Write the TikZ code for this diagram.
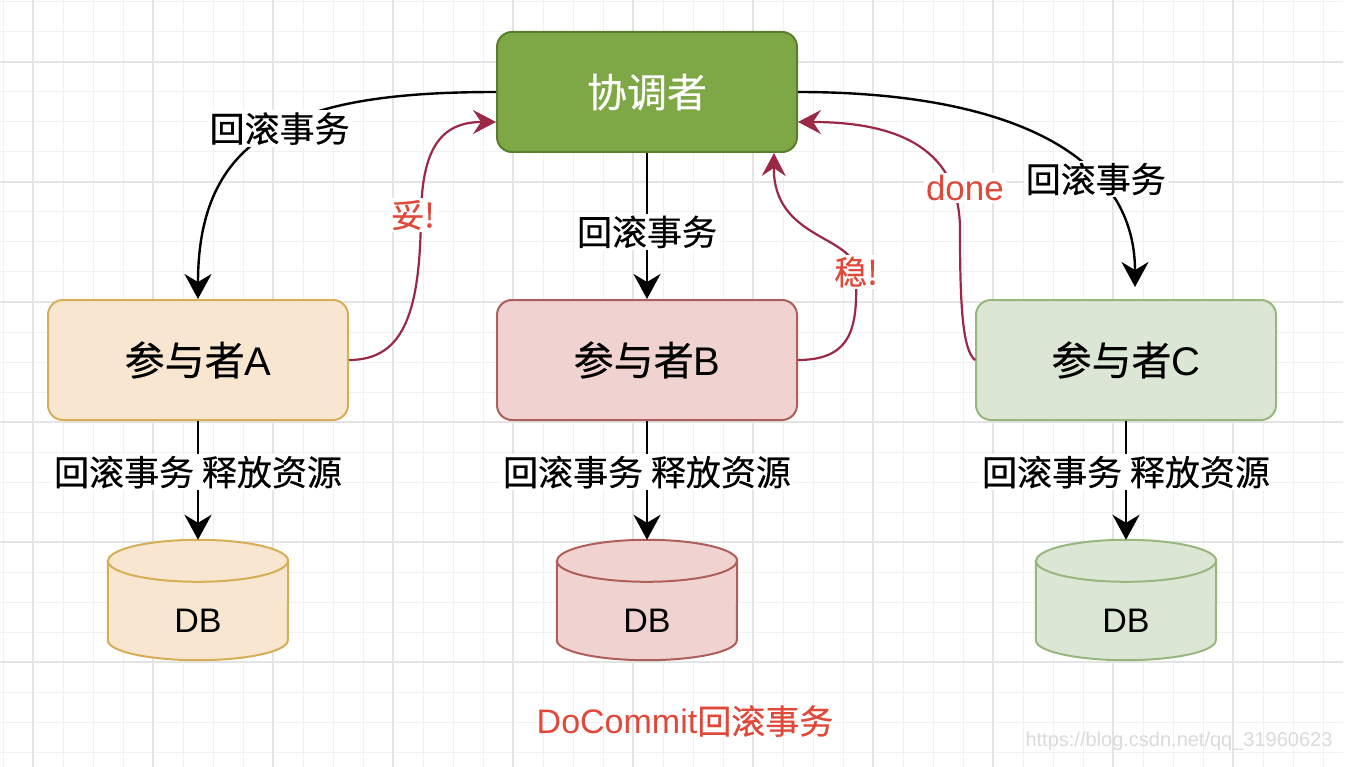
\documentclass[tikz,border=0pt]{standalone}
\usepackage{fontspec}
\setmainfont{Liberation Sans}
\newfontfamily\cjk[FakeBold=0.4]{Noto Sans CJK SC}
\usepackage{tikz}
\usetikzlibrary{positioning,%
  arrows.meta,%
  calc}

\definecolor{gridminor}{HTML}{F1F1F1}
\definecolor{gridmajor}{HTML}{E4E4E4}
\definecolor{coordfill}{HTML}{7EA746}
\definecolor{coorddraw}{HTML}{5A7F2C}
\definecolor{afill}{HTML}{F8E6D1}
\definecolor{adraw}{HTML}{D5AE55}
\definecolor{bfill}{HTML}{F0D2D0}
\definecolor{bdraw}{HTML}{AE5F5A}
\definecolor{cfill}{HTML}{DCE6D4}
\definecolor{cdraw}{HTML}{98B77E}
\definecolor{ackline}{HTML}{9B2847}
\definecolor{acktext}{HTML}{E0493A}
\definecolor{marktext}{HTML}{DADADA}

\begin{document}
\begin{tikzpicture}[x=1pt, y=-1pt,
    gridthin/.style={line width=1pt, gridminor},
    gridthick/.style={line width=1.3pt, gridmajor},
    coordbox/.style={rectangle, rounded corners=15pt, minimum width=300pt, minimum height=120pt,
      line width=2pt, draw=coorddraw, fill=coordfill, text=white, font=\cjk\fontsize{40}{48}\selectfont},
    partbox/.style={rectangle, rounded corners=15pt, minimum width=300pt, minimum height=120pt,
      line width=2pt, font=\fontsize{40}{48}\selectfont},
    dbbox/.style={rectangle, minimum width=180pt, minimum height=120pt, inner sep=0pt},
    flow/.style={line width=2.4pt, -{Stealth[length=25pt, width=27pt, inset=8pt]}},
    ack/.style={line width=2.2pt, ackline, -{Stealth[length=23pt, width=24pt, inset=8pt]}},
    lbl/.style={fill=white, text=black, inner sep=2pt, font=\cjk\fontsize{35}{42}\selectfont},
    acklbl/.style={fill=white, text=acktext, inner sep=2pt, font=\cjk\fontsize{33}{40}\selectfont}]

    \useasboundingbox (0,0) rectangle (1370,767);
    \fill[white] (0,0) rectangle (1370,767);

    % grid
    \foreach \gx in {3,33,...,1343} \draw[gridthin] (\gx,0) -- (\gx,767);
    \foreach \gy in {2,32,...,752} \draw[gridthin] (0,\gy) -- (1343,\gy);
    \foreach \gx in {33,153,...,1233} \draw[gridthick] (\gx,0) -- (\gx,767);
    \foreach \gy in {62,182,...,662} \draw[gridthick] (0,\gy) -- (1343,\gy);

    \node[coordbox] (coord) at (647,92) {协调者};
    \node[partbox, draw=adraw, fill=afill] (A) at (198,360) {{\cjk 参与者}A};
    \node[partbox, draw=bdraw, fill=bfill] (B) at (647,360) {{\cjk 参与者}B};
    \node[partbox, draw=cdraw, fill=cfill] (C) at (1126,360) {{\cjk 参与者}C};

    \node[dbbox] (dbA) at (198,600) {};
    \node[dbbox] (dbB) at (647,600) {};
    \node[dbbox] (dbC) at (1126,600) {};

    \foreach \n/\f/\d in {A/afill/adraw, B/bfill/bdraw, C/cfill/cdraw}{
      \draw[fill=\f, draw=\d, line width=2pt] ($(db\n.north west)+(0,21)$) -- ($(db\n.south west)+(0,-20)$)
        arc[start angle=180, end angle=360, x radius=90pt, y radius=20pt]
        -- ($(db\n.north east)+(0,21)$)
        arc[start angle=0, end angle=180, x radius=90pt, y radius=21pt] -- cycle;
      \draw[draw=\d, line width=2pt] ($(db\n.north west)+(0,21)$)
        arc[start angle=180, end angle=360, x radius=90pt, y radius=21pt];
      \node[font=\fontsize{34}{40}\selectfont] at ($(db\n.center)+(0,21)$) {DB};
      \draw[flow] (\n.south) -- node[lbl, pos=0.43] {回滚事务 释放资源} (db\n.north);
    }

    % rollback orders
    \draw[flow] (coord.west) .. controls (300,92) and (198,130) .. node[lbl, pos=0.48] {回滚事务} (A.north);
    \draw[flow] (coord.south) -- node[lbl, pos=0.54] {回滚事务} (B.north);
    \draw[flow] (coord.east) .. controls (1000,92) and (1135,150) .. node[lbl, pos=0.68] {回滚事务}
      ([xshift=9pt, yshift=12pt]C.north);

    % replies
    \draw[ack] (A.east) .. controls (405,360) and (420,310) .. (421,215) node[acklbl, xshift=-8pt] {妥!}
      .. controls (422,150) and (440,122) .. ([yshift=-30pt]coord.west);
    \draw[ack] (B.east) .. controls (857,360) and (857,320) .. (856,272) node[acklbl] {稳!}
      .. controls (855,235) and (773,240) .. ([xshift=-24pt]coord.south east);
    \draw[ack] (C.west) .. controls (962,350) and (960,300) .. (960,230)
      .. controls (960,150) and (900,122) .. node[acklbl, pos=0.2, xshift=12pt, font=\fontsize{35}{42}\selectfont] {done}
      ([yshift=-30pt]coord.east);

    \node[text=acktext, font=\fontsize{34}{40}\selectfont] (title) at (685,721) {DoCommit{\cjk 回滚事务}};
    \node[text=marktext, font=\fontsize{20}{24}\selectfont] (mark) at (1179,741) {https://blog.csdn.net/qq\_31960623};
\end{tikzpicture}
\end{document}
